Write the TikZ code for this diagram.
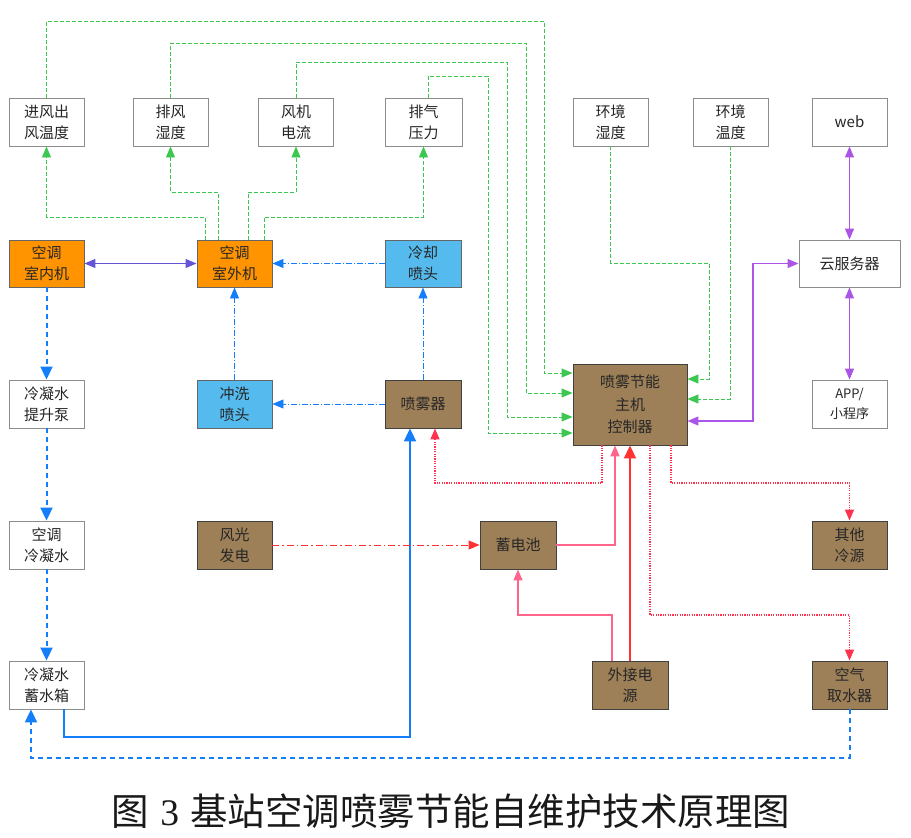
\documentclass[tikz,border=0pt]{standalone}
\usepackage{fontspec}
\usetikzlibrary{arrows.meta}
\newfontfamily\cjk{Noto Sans CJK SC}
\newfontfamily\capdigit{Liberation Serif}
\definecolor{gline}{RGB}{60,200,80}
\definecolor{bline}{RGB}{20,125,250}
\definecolor{purp}{RGB}{170,85,230}
\definecolor{slate}{RGB}{100,85,215}
\definecolor{redd}{RGB}{255,50,80}
\definecolor{pinkl}{RGB}{255,100,140}
\definecolor{redsol}{RGB}{255,50,50}
\definecolor{orangef}{RGB}{255,148,0}
\definecolor{bluef}{RGB}{85,187,238}
\definecolor{brownf}{RGB}{158,128,88}
\begin{document}
\begin{tikzpicture}[x=1pt,y=-1pt,
  box/.style={draw=black!45,line width=0.9pt,fill=white,minimum width=75pt,minimum height=48pt,inner sep=0pt,
    align=center,font=\cjk\fontsize{15}{21}\selectfont,text=black!85},
  obox/.style={box,fill=orangef,draw=black!60},
  lbox/.style={box,fill=bluef,draw=black!60},
  wbox/.style={box,fill=brownf,draw=black!75},
  tip/.style={-{Triangle[length=11pt,width=9pt]}},
  bigtip/.style={-{Triangle[length=13pt,width=12pt]}},
  tips/.style={{Triangle[length=11pt,width=9pt]}-{Triangle[length=11pt,width=9pt]}},
  greenl/.style={draw=gline,line width=0.9pt,dash pattern=on 4pt off 2pt,tip},
  bdashdot/.style={draw=bline,line width=0.9pt,dash pattern=on 6pt off 2pt on 1pt off 2pt,tip},
  bdash/.style={draw=bline,line width=2pt,dash pattern=on 5pt off 4pt,bigtip},
  bsolid/.style={draw=bline,line width=2pt,bigtip},
  rdot/.style={draw=redd,line width=1.5pt,dash pattern=on 1.2pt off 1.2pt,tip},
  rdashdot/.style={draw=redsol,line width=0.9pt,dash pattern=on 7pt off 3pt on 1.5pt off 3pt,tip},
  pinkline/.style={draw=pinkl,line width=1.4pt,tip},
  redline/.style={draw=redsol,line width=2pt,bigtip},
  purpline/.style={draw=purp,line width=1.3pt,tips},
  slateline/.style={draw=slate,line width=1.3pt,tips}
]
\useasboundingbox (0,0) rectangle (911,838);
% top row sensors
\node[box] (s1) at (46.5,122) {进风出\\风温度};
\node[box] (s2) at (170.5,122) {排风\\湿度};
\node[box] (s3) at (296,122) {风机\\电流};
\node[box,minimum width=77pt] (s4) at (423.5,122) {排气\\压力};
\node[box] (e1) at (610.5,122) {环境\\湿度};
\node[box] (e2) at (730.5,122) {环境\\温度};
\node[box] (web) at (849.5,122) {web};
% second row
\node[obox,minimum height=47pt] (indoor) at (46.5,263.5) {空调\\室内机};
\node[obox,minimum height=47pt] (outdoor) at (234.5,263.5) {空调\\室外机};
\node[lbox,minimum height=47pt,minimum width=76pt] (cool) at (423,263.5) {冷却\\喷头};
\node[box,minimum height=47pt,minimum width=101pt] (cloud) at (849.5,263.5) {云服务器};
% third row
\node[box] (pump) at (46.5,404) {冷凝水\\提升泵};
\node[lbox] (wash) at (234.5,404) {冲洗\\喷头};
\node[wbox,minimum width=76pt] (spray) at (423,404) {喷雾器};
\node[wbox,minimum width=114pt,minimum height=81pt,font=\cjk\fontsize{15}{22.5}\selectfont] (ctrl) at (630,404.5) {喷雾节能\\主机\\控制器};
\node[box,font=\cjk\fontsize{13}{20}\selectfont] (app) at (849.5,404) {APP/\\小程序};
% fourth row
\node[box] (cond) at (46.5,545) {空调\\冷凝水};
\node[wbox] (wind) at (234.5,545) {风光\\发电};
\node[wbox,minimum width=76pt] (batt) at (518,545) {蓄电池};
\node[wbox] (other) at (849.5,545) {其他\\冷源};
% fifth row
\node[box] (tank) at (46.5,685) {冷凝水\\蓄水箱};
\node[wbox,minimum width=76pt] (ext) at (630,685) {外接电\\源};
\node[wbox] (air) at (849.5,685) {空气\\取水器};
% caption
\node[font=\cjk\fontsize{37.5}{42}\selectfont,text=black!90] (cap) at (451,811) {图\hspace{11pt}{\capdigit 3}\hspace{11pt}基站空调喷雾节能自维护技术原理图};

% green: outdoor unit -> sensors
\draw[greenl] (outdoor.north -| 205,0) -- (205,217) -| (s1.south);
\draw[greenl] (outdoor.north -| 218,0) -- (218,192) -| (s2.south);
\draw[greenl] (outdoor.north -| 248,0) -- (248,192) -| (s3.south);
\draw[greenl] (outdoor.north -| 264,0) -- (264,217) -| (s4.south);
% green: sensors -> controller
\draw[greenl] (s1.north) |- (544,21) |- (ctrl.west |- 0,373);
\draw[greenl] (s2.north) |- (526,43) |- (ctrl.west |- 0,393);
\draw[greenl] (s3.north) |- (507,62) |- (ctrl.west |- 0,417);
\draw[greenl] (s4.north -| 428,0) |- (488,76) |- (ctrl.west |- 0,433);
\draw[greenl] (e1.south) |- (709,263) |- (ctrl.east |- 0,379);
\draw[greenl] (e2.south) |- (ctrl.east |- 0,399);
% purple
\draw[purpline] (ctrl.east |- 0,421) -| (753,263.5) -- (cloud.west);
\draw[purpline] (web.south) -- (cloud.north);
\draw[purpline] (cloud.south) -- (app.north);
\draw[slateline] (indoor.east) -- (outdoor.west);
% blue dash-dot
\draw[bdashdot] (cool.west) -- (outdoor.east);
\draw[bdashdot] (wash.north) -- (outdoor.south);
\draw[bdashdot] (spray.north) -- (cool.south);
\draw[bdashdot] (spray.west) -- (wash.east);
% blue dashed
\draw[bdash] (indoor.south) -- (pump.north);
\draw[bdash] (pump.south) -- (cond.north);
\draw[bdash] (cond.south) -- (tank.north);
\draw[bdash] (air.south) |- (31,758) -- (tank.south -| 31,0);
% blue solid
\draw[bsolid] (tank.south -| 64,0) |- (410,737) -- (spray.south -| 410,0);
% red
\draw[rdot] (ctrl.south -| 602,0) |- (435,483) -- (spray.south -| 435,0);
\draw[rdot] (ctrl.south -| 671,0) |- (849.5,483) -- (other.north);
\draw[rdot] (ctrl.south -| 650,0) |- (849.5,615) -- (air.north);
\draw[rdashdot] (wind.east) -- (batt.west);
\draw[pinkline] (batt.east) -| (ctrl.south -| 615,0);
\draw[pinkline] (ext.north -| 612,0) |- (518,615) -- (batt.south);
\draw[redline] (ext.north) -- (ctrl.south);
\end{tikzpicture}
\end{document}
